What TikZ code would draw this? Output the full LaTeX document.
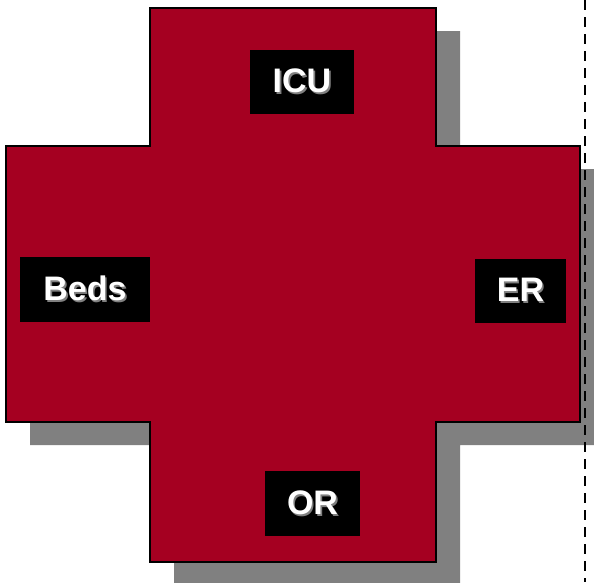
\documentclass[tikz,border=0pt]{standalone}
\usepackage{fontspec}
\setmainfont{Liberation Sans}
\usepackage{xcolor}
\usepackage{tikz}

\definecolor{crossred}{RGB}{165,0,33}
\definecolor{shadowgray}{RGB}{128,128,128}

% outline of the cross, in pixels of the original
\newcommand{\crossoutline}{(150,8)--(436,8)--(436,146)--(580,146)--(580,422)--(436,422)--(436,562)--(150,562)--(150,422)--(6,422)--(6,146)--(150,146)--cycle}
% white label text with a small grey drop shadow
\newcommand{\shadowtext}[1]{\makebox[0pt][l]{\hspace{1.6pt}\raisebox{-1.6pt}{\color{shadowgray}#1}}\color{white}#1}

\begin{document}
\begin{tikzpicture}[x=1pt,y=-1pt,
    wardbox/.style={fill=black,inner sep=0pt,font=\fontsize{34}{40}\selectfont\bfseries}]
  \useasboundingbox (0,0) rectangle (594,582);
  \fill[shadowgray,shift={(24,23)}] \crossoutline;
  \draw[line width=2pt,fill=crossred] \crossoutline;
  \node[wardbox,minimum width=104pt,minimum height=64pt] (icu)  at (302,82)    {\shadowtext{ICU}};
  \node[wardbox,minimum width=130pt,minimum height=65pt] (beds) at (85,289.5)  {\shadowtext{Beds}};
  \node[wardbox,minimum width=91pt,minimum height=64pt]  (er)   at (520.5,291) {\shadowtext{ER}};
  \node[wardbox,minimum width=95pt,minimum height=65pt]  (or)   at (312.5,503.5) {\shadowtext{OR}};
  \draw[line width=1.5pt,dash pattern=on 10pt off 7pt] (585,0) -- (585,582);
\end{tikzpicture}
\end{document}
